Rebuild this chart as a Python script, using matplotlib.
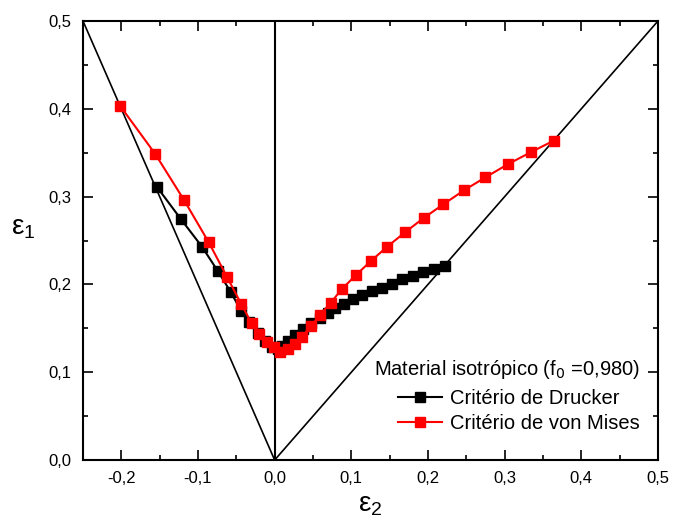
import matplotlib
matplotlib.use('Agg')
import matplotlib.pyplot as plt
from matplotlib.ticker import MultipleLocator, FuncFormatter

plt.rcParams['font.family'] = ['Liberation Sans', 'DejaVu Sans']

# Critério de Drucker
e2_drucker = [-0.1535, -0.122, -0.0948, -0.074, -0.057, -0.0439, -0.033, -0.022, -0.012,
              -0.003, 0.004, 0.010, 0.018, 0.026, 0.037, 0.048, 0.059, 0.069, 0.079,
              0.090, 0.102, 0.114, 0.127, 0.140, 0.153, 0.166, 0.180, 0.194, 0.208, 0.222]
e1_drucker = [0.311, 0.274, 0.243, 0.215, 0.191, 0.170, 0.157, 0.145, 0.136,
              0.129, 0.126, 0.130, 0.135, 0.142, 0.149, 0.156, 0.162, 0.167, 0.173,
              0.178, 0.183, 0.188, 0.192, 0.196, 0.201, 0.206, 0.210, 0.214, 0.217, 0.221]

# Critério de von Mises
e2_mises = [-0.2017, -0.1557, -0.118, -0.086, -0.0618, -0.0436, -0.030, -0.0205, -0.0104,
            -0.0005, 0.0069, 0.0177, 0.0265, 0.036, 0.047, 0.0591, 0.073, 0.0874, 0.106,
            0.126, 0.1469, 0.170, 0.1943, 0.220, 0.247, 0.275, 0.304, 0.334, 0.364]
e1_mises = [0.4035, 0.3485, 0.2958, 0.248, 0.208, 0.1777, 0.1557, 0.1432, 0.1347,
            0.129, 0.1235, 0.127, 0.132, 0.1404, 0.1526, 0.1651, 0.179, 0.1944, 0.2107,
            0.227, 0.243, 0.2593, 0.2756, 0.2912, 0.3072, 0.322, 0.3368, 0.3505, 0.3637]

# linhas de referência (e1 = -2 e2, e1 = e2, e2 = 0)
ref_x = [-0.25, 0.0, 0.5]
ref_y = [0.5, 0.0, 0.5]

fig = plt.figure(figsize=(6.73, 5.30), dpi=100)
ax = fig.add_axes([0.1233, 0.132, 0.8544, 0.8284])

ax.plot(ref_x, ref_y, color='black', lw=1.2)
ax.plot([0, 0], [0, 0.5], color='black', lw=1.5)

ax.plot(e2_drucker, e1_drucker, color='black', lw=1.5, marker='s', ms=6.5,
        label='Critério de Drucker')
ax.plot(e2_mises, e1_mises, color='red', lw=1.5, marker='s', ms=6.5,
        label='Critério de von Mises')

ax.set_xlim(-0.25, 0.5)
ax.set_ylim(0.0, 0.5)
ax.xaxis.set_major_locator(MultipleLocator(0.1))
ax.xaxis.set_minor_locator(MultipleLocator(0.05))
ax.yaxis.set_major_locator(MultipleLocator(0.1))
ax.yaxis.set_minor_locator(MultipleLocator(0.05))
fmt = FuncFormatter(lambda v, p: ('%.1f' % v).replace('.', ',').replace('-0,0', '0,0'))
ax.xaxis.set_major_formatter(fmt)
ax.yaxis.set_major_formatter(fmt)
ax.tick_params(which='both', direction='in', top=True, right=True, labelsize=12, width=1.2)
ax.tick_params(which='major', length=7, pad=8)
ax.tick_params(which='minor', length=3.5)
for s in ax.spines.values():
    s.set_linewidth(1.5)

ax.set_xlabel(r'$\mathregular{\varepsilon_2}$', fontsize=20, labelpad=4)
ax.set_ylabel(r'$\mathregular{\varepsilon_1}$', fontsize=20, rotation=0, labelpad=18)

leg = ax.legend(title='Material isotrópico (f$_0$ =0,980)', loc='lower right',
                bbox_to_anchor=(0.993, 0.03), frameon=False, fontsize=14.5,
                title_fontsize=14.5, handlelength=2.2, borderpad=0.2,
                labelspacing=0.27, handletextpad=0.4)
leg._legend_box.align = 'right'
leg._legend_box.sep = 6

fig.savefig('out.png', dpi=100)
